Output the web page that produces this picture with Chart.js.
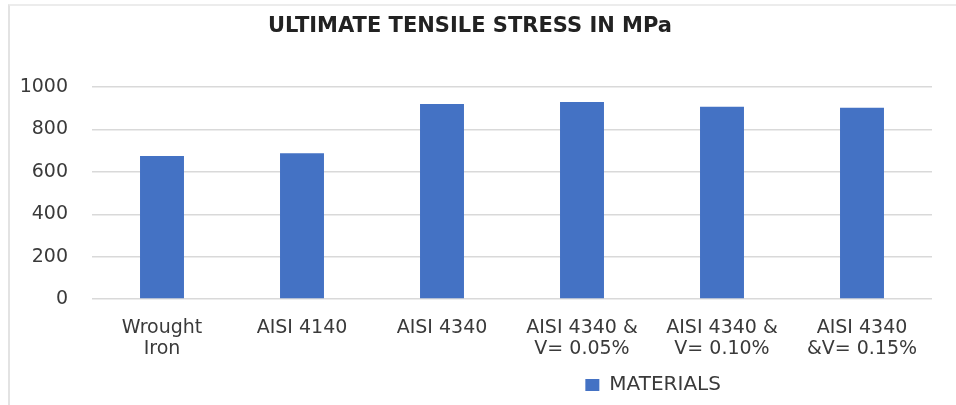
<!DOCTYPE html>
<html>
<head>
<meta charset="utf-8">
<script src="https://cdn.jsdelivr.net/npm/chart.js@4/dist/chart.umd.min.js"></script>
<style>
  html, body { margin: 0; padding: 0; background: #ffffff; }
  #wrap { position: relative; width: 956px; height: 405px; overflow: hidden; }
  #frame { position: absolute; left: 8px; top: 4px; width: 960px; height: 410px;
           border-left: 2px solid #e3e3e3; border-top: 2px solid #ececec; box-sizing: border-box; }
  canvas { position: absolute; left: 0; top: 0; }
</style>
</head>
<body>
<div id="wrap">
  <div id="frame"></div>
  <canvas id="chart" width="956" height="405"></canvas>
</div>
<script>
// Ultimate tensile stress of each material (MPa)
const categories = [
  ["Wrought", "Iron"],
  "AISI 4140",
  "AISI 4340",
  ["AISI 4340 &", "V= 0.05%"],
  ["AISI 4340 &", "V= 0.10%"],
  ["AISI 4340", "&V= 0.15%"]
];
const tensileStress = [675, 688, 921, 930, 908, 903];
const seriesName = "MATERIALS";
const yTicks = [0, 200, 400, 600, 800, 1000];
const chartTitle = "ULTIMATE TENSILE STRESS IN MPa";

const textColor = "#3a3a3a";
const barColor = "#4472c4";

// Moves the legend so it sits to the right of the plot's middle
const legendOffset = {
  id: "legendOffset",
  afterLayout(chart) {
    const lg = chart.legend;
    const area = chart.chartArea;
    if (!lg || !area) return;
    const w = lg.right - lg.left;
    const center = area.left + area.width * 0.668;
    lg.left = center - w / 2;
    lg.right = center + w / 2;
  }
};

new Chart(document.getElementById("chart"), {
  type: "bar",
  data: {
    labels: categories,
    datasets: [{
      label: seriesName,
      data: tensileStress,
      backgroundColor: barColor,
      borderWidth: 0,
      categoryPercentage: 1.0,
      barPercentage: 0.314
    }]
  },
  options: {
    responsive: false,
    animation: false,
    devicePixelRatio: 1,
    layout: { padding: { left: 8, right: 24, top: 0, bottom: 0 } },
    plugins: {
      title: {
        display: true,
        text: chartTitle,
        color: "#222222",
        font: { family: "DejaVu Sans", size: 21, weight: "bold", lineHeight: 1.2 },
        padding: { top: 14, bottom: 48 }
      },
      legend: {
        display: true,
        position: "bottom",
        labels: {
          color: textColor,
          font: { family: "DejaVu Sans", size: 20 },
          boxWidth: 14,
          boxHeight: 12,
          padding: 8
        }
      },
      tooltip: { enabled: false }
    },
    scales: {
      x: {
        grid: { display: false },
        border: { display: false },
        ticks: {
          color: textColor,
          font: { family: "DejaVu Sans", size: 19, lineHeight: 1.12 },
          padding: 10,
          maxRotation: 0,
          autoSkip: false
        },
        afterFit(scale) { scale.height = 68; }
      },
      y: {
        min: 0,
        max: 1000,
        afterBuildTicks(scale) { scale.ticks = yTicks.map(v => ({ value: v })); },
        grid: { color: "#d9d9d9", lineWidth: 1.5, drawTicks: false },
        border: { display: false },
        ticks: {
          color: textColor,
          font: { family: "DejaVu Sans", size: 19 },
          padding: 24,
          callback: (v) => String(v)
        },
        afterFit(scale) { scale.width = 84; }
      }
    }
  },
  plugins: [legendOffset]
});
</script>
</body>
</html>
